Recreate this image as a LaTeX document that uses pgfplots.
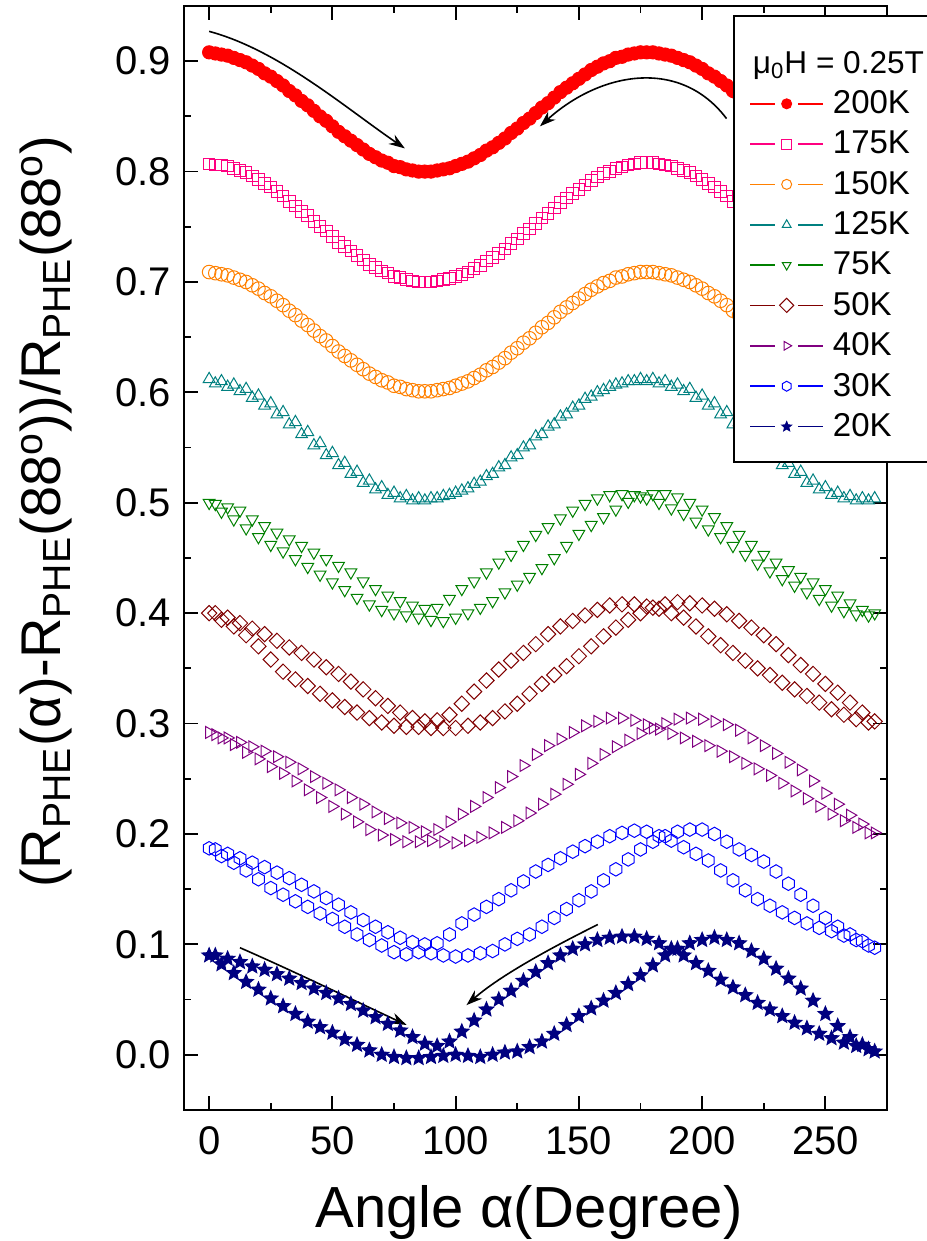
\documentclass[border=0pt]{standalone}
\usepackage{pgfplots}
\pgfplotsset{compat=1.18}
\usepackage{pgfplotstable}
\usepackage{fontspec}
\setmainfont{Liberation Sans}
\usetikzlibrary{arrows.meta}

\definecolor{c200}{RGB}{255,0,0}
\definecolor{c175}{RGB}{255,0,128}
\definecolor{c150}{RGB}{255,128,0}
\definecolor{c125}{RGB}{0,128,128}
\definecolor{c75}{RGB}{0,128,0}
\definecolor{c50}{RGB}{128,0,0}
\definecolor{c40}{RGB}{128,0,128}
\definecolor{c30}{RGB}{0,0,255}
\definecolor{c20}{RGB}{0,0,128}

% open hexagon, pointy top
\pgfdeclareplotmark{hexagon}{%
  \pgfpathmoveto{\pgfpointpolar{90}{\pgfplotmarksize}}%
  \pgfpathlineto{\pgfpointpolar{150}{\pgfplotmarksize}}%
  \pgfpathlineto{\pgfpointpolar{210}{\pgfplotmarksize}}%
  \pgfpathlineto{\pgfpointpolar{270}{\pgfplotmarksize}}%
  \pgfpathlineto{\pgfpointpolar{330}{\pgfplotmarksize}}%
  \pgfpathlineto{\pgfpointpolar{30}{\pgfplotmarksize}}%
  \pgfpathclose
  \pgfusepathqstroke
}
% filled five-pointed star
\pgfdeclareplotmark{fstar}{%
  \pgfpathmoveto{\pgfpointpolar{90}{\pgfplotmarksize}}%
  \pgfpathlineto{\pgfpointpolar{126}{0.45\pgfplotmarksize}}%
  \pgfpathlineto{\pgfpointpolar{162}{\pgfplotmarksize}}%
  \pgfpathlineto{\pgfpointpolar{198}{0.45\pgfplotmarksize}}%
  \pgfpathlineto{\pgfpointpolar{234}{\pgfplotmarksize}}%
  \pgfpathlineto{\pgfpointpolar{270}{0.45\pgfplotmarksize}}%
  \pgfpathlineto{\pgfpointpolar{306}{\pgfplotmarksize}}%
  \pgfpathlineto{\pgfpointpolar{342}{0.45\pgfplotmarksize}}%
  \pgfpathlineto{\pgfpointpolar{18}{\pgfplotmarksize}}%
  \pgfpathlineto{\pgfpointpolar{54}{0.45\pgfplotmarksize}}%
  \pgfpathclose
  \pgfusepathqfillstroke
}

\newcommand{\lstrut}{\rule[-4pt]{0pt}{14pt}}

% first sweep (a..) on 0,5,...,270
\pgfplotstableread{
x s200 s175 s150 s125 a75 a50 a40 a30 a20
0 0.908 0.807 0.709 0.612 0.500 0.400 0.292 0.187 0.090
5 0.906 0.806 0.707 0.610 0.492 0.394 0.287 0.180 0.082
10 0.903 0.803 0.704 0.607 0.485 0.388 0.281 0.174 0.074
15 0.899 0.799 0.700 0.603 0.477 0.380 0.274 0.167 0.066
20 0.893 0.793 0.694 0.597 0.469 0.370 0.268 0.159 0.059
25 0.886 0.786 0.687 0.590 0.462 0.358 0.261 0.151 0.051
30 0.878 0.778 0.679 0.582 0.456 0.347 0.255 0.145 0.044
35 0.869 0.769 0.670 0.573 0.449 0.340 0.248 0.139 0.037
40 0.860 0.760 0.661 0.564 0.442 0.334 0.240 0.134 0.030
45 0.850 0.750 0.651 0.554 0.435 0.327 0.233 0.128 0.025
50 0.841 0.741 0.642 0.545 0.428 0.321 0.225 0.123 0.020
55 0.832 0.732 0.633 0.536 0.421 0.315 0.218 0.116 0.014
60 0.824 0.724 0.625 0.528 0.414 0.310 0.211 0.109 0.009
65 0.816 0.716 0.617 0.520 0.408 0.305 0.204 0.104 0.004
70 0.810 0.710 0.611 0.514 0.403 0.301 0.199 0.099 0.000
75 0.805 0.705 0.606 0.509 0.400 0.298 0.195 0.093 -0.002
80 0.802 0.702 0.603 0.506 0.398 0.297 0.193 0.091 -0.003
85 0.800 0.700 0.601 0.504 0.396 0.297 0.193 0.093 -0.003
90 0.800 0.700 0.601 0.504 0.394 0.296 0.194 0.092 -0.002
95 0.802 0.702 0.603 0.506 0.393 0.296 0.193 0.090 -0.001
100 0.805 0.705 0.606 0.509 0.396 0.296 0.192 0.089 0.000
105 0.809 0.709 0.610 0.513 0.400 0.298 0.194 0.090 -0.001
110 0.815 0.715 0.616 0.519 0.405 0.301 0.197 0.092 -0.002
115 0.822 0.722 0.623 0.526 0.411 0.305 0.201 0.094 0.000
120 0.830 0.730 0.631 0.534 0.419 0.311 0.206 0.100 0.002
125 0.839 0.739 0.640 0.543 0.426 0.318 0.212 0.105 0.003
130 0.848 0.748 0.649 0.552 0.433 0.327 0.219 0.109 0.007
135 0.858 0.758 0.659 0.562 0.441 0.336 0.227 0.116 0.012
140 0.867 0.767 0.668 0.571 0.450 0.344 0.236 0.124 0.019
145 0.876 0.776 0.677 0.580 0.461 0.352 0.245 0.132 0.027
150 0.884 0.784 0.685 0.588 0.472 0.361 0.254 0.140 0.035
155 0.892 0.792 0.693 0.596 0.480 0.370 0.264 0.148 0.042
160 0.898 0.798 0.699 0.602 0.487 0.379 0.272 0.158 0.049
165 0.903 0.803 0.704 0.607 0.494 0.387 0.279 0.168 0.056
170 0.906 0.806 0.707 0.610 0.501 0.394 0.285 0.177 0.064
175 0.908 0.808 0.709 0.612 0.506 0.400 0.291 0.186 0.072
180 0.908 0.808 0.709 0.612 0.508 0.405 0.296 0.193 0.081
185 0.906 0.806 0.707 0.610 0.508 0.408 0.300 0.198 0.090
190 0.903 0.803 0.704 0.607 0.505 0.410 0.304 0.202 0.096
195 0.899 0.799 0.700 0.603 0.500 0.409 0.305 0.204 0.101
200 0.893 0.793 0.694 0.597 0.494 0.407 0.304 0.204 0.104
205 0.886 0.786 0.687 0.590 0.487 0.404 0.302 0.200 0.106
210 0.878 0.778 0.679 0.582 0.479 0.399 0.299 0.193 0.104
215 0.869 0.769 0.670 0.573 0.471 0.393 0.294 0.186 0.101
220 0.860 0.760 0.661 0.564 0.462 0.387 0.287 0.181 0.094
225 0.850 0.750 0.651 0.554 0.453 0.380 0.280 0.175 0.087
230 0.841 0.741 0.642 0.545 0.446 0.372 0.273 0.166 0.078
235 0.832 0.732 0.633 0.536 0.439 0.362 0.265 0.155 0.069
240 0.824 0.724 0.625 0.528 0.433 0.353 0.258 0.145 0.060
245 0.816 0.716 0.617 0.520 0.428 0.345 0.248 0.135 0.049
250 0.810 0.710 0.611 0.514 0.422 0.336 0.237 0.124 0.037
255 0.805 0.705 0.606 0.509 0.416 0.328 0.227 0.116 0.026
260 0.802 0.702 0.603 0.506 0.409 0.319 0.217 0.109 0.016
265 0.800 0.700 0.601 0.504 0.403 0.310 0.209 0.103 0.009
270 0.800 0.700 0.601 0.504 0.400 0.302 0.201 0.097 0.003
}\sweepA

% second sweep (b..) on 2.5,7.5,...,267.5
\pgfplotstableread{
x s200 s175 s150 s125 b75 b50 b40 b30 b20
2.5 0.907 0.806 0.708 0.608 0.499 0.400 0.290 0.186 0.090
7.5 0.905 0.805 0.706 0.605 0.496 0.396 0.287 0.182 0.087
12.5 0.901 0.801 0.702 0.601 0.493 0.391 0.283 0.178 0.084
17.5 0.896 0.796 0.697 0.595 0.485 0.386 0.279 0.174 0.080
22.5 0.889 0.789 0.690 0.588 0.479 0.381 0.275 0.170 0.077
27.5 0.882 0.782 0.683 0.580 0.473 0.375 0.270 0.165 0.073
32.5 0.873 0.773 0.674 0.571 0.467 0.369 0.265 0.160 0.069
37.5 0.864 0.764 0.665 0.562 0.461 0.364 0.259 0.154 0.065
42.5 0.855 0.755 0.656 0.552 0.455 0.358 0.252 0.148 0.060
47.5 0.846 0.746 0.647 0.543 0.449 0.351 0.246 0.142 0.056
52.5 0.836 0.736 0.637 0.534 0.443 0.345 0.240 0.136 0.051
57.5 0.828 0.728 0.629 0.526 0.437 0.338 0.233 0.129 0.046
62.5 0.820 0.720 0.621 0.518 0.429 0.331 0.227 0.122 0.040
67.5 0.813 0.713 0.614 0.512 0.422 0.323 0.220 0.116 0.034
72.5 0.808 0.708 0.609 0.507 0.416 0.316 0.214 0.111 0.028
77.5 0.804 0.704 0.605 0.504 0.411 0.310 0.210 0.106 0.022
82.5 0.801 0.701 0.602 0.502 0.407 0.305 0.206 0.102 0.016
87.5 0.800 0.700 0.601 0.502 0.404 0.302 0.202 0.100 0.010
92.5 0.801 0.701 0.602 0.504 0.405 0.303 0.204 0.101 0.008
97.5 0.803 0.703 0.604 0.507 0.413 0.308 0.211 0.109 0.012
102.5 0.807 0.707 0.608 0.511 0.422 0.318 0.218 0.119 0.021
107.5 0.812 0.712 0.613 0.517 0.429 0.329 0.225 0.127 0.031
112.5 0.819 0.719 0.620 0.524 0.437 0.339 0.233 0.134 0.041
117.5 0.826 0.726 0.627 0.532 0.446 0.349 0.242 0.141 0.050
122.5 0.835 0.735 0.636 0.541 0.453 0.357 0.252 0.149 0.058
127.5 0.844 0.744 0.645 0.550 0.462 0.364 0.262 0.157 0.067
132.5 0.853 0.753 0.654 0.560 0.471 0.372 0.272 0.166 0.075
137.5 0.862 0.762 0.663 0.569 0.478 0.381 0.280 0.172 0.083
142.5 0.872 0.772 0.673 0.578 0.486 0.388 0.286 0.178 0.090
147.5 0.880 0.780 0.681 0.586 0.493 0.393 0.292 0.184 0.096
152.5 0.888 0.788 0.689 0.594 0.499 0.398 0.298 0.189 0.100
157.5 0.895 0.795 0.696 0.600 0.504 0.403 0.302 0.193 0.104
162.5 0.900 0.800 0.701 0.605 0.507 0.407 0.305 0.198 0.106
167.5 0.904 0.804 0.705 0.608 0.508 0.408 0.305 0.201 0.107
172.5 0.907 0.807 0.708 0.610 0.507 0.408 0.303 0.203 0.107
177.5 0.908 0.808 0.709 0.610 0.504 0.406 0.299 0.202 0.105
182.5 0.907 0.807 0.708 0.608 0.500 0.404 0.295 0.198 0.101
187.5 0.905 0.805 0.706 0.605 0.495 0.400 0.291 0.194 0.096
192.5 0.901 0.801 0.702 0.601 0.490 0.396 0.287 0.188 0.090
197.5 0.896 0.796 0.697 0.595 0.483 0.388 0.284 0.182 0.083
202.5 0.889 0.789 0.690 0.588 0.476 0.379 0.280 0.176 0.076
207.5 0.882 0.782 0.683 0.580 0.469 0.371 0.275 0.167 0.068
212.5 0.873 0.773 0.674 0.571 0.461 0.364 0.270 0.158 0.061
217.5 0.864 0.764 0.665 0.562 0.453 0.357 0.264 0.149 0.054
222.5 0.855 0.755 0.656 0.552 0.445 0.350 0.259 0.141 0.047
227.5 0.846 0.746 0.647 0.543 0.438 0.344 0.253 0.135 0.041
232.5 0.836 0.736 0.637 0.534 0.431 0.337 0.246 0.129 0.035
237.5 0.828 0.728 0.629 0.526 0.425 0.331 0.239 0.124 0.029
242.5 0.820 0.720 0.621 0.518 0.419 0.325 0.232 0.119 0.024
247.5 0.813 0.713 0.614 0.512 0.413 0.319 0.225 0.115 0.019
252.5 0.808 0.708 0.609 0.507 0.407 0.313 0.218 0.112 0.015
257.5 0.804 0.704 0.605 0.504 0.402 0.308 0.212 0.108 0.011
262.5 0.801 0.701 0.602 0.502 0.399 0.304 0.206 0.104 0.008
267.5 0.800 0.700 0.601 0.502 0.398 0.301 0.201 0.099 0.005
}\sweepB

\pgfplotsset{
  orilegend/.style={legend image code/.code={%
      \draw[##1, line width=0.75pt] (0pt,0pt) -- (12.5pt,0pt) (24pt,0pt) -- (36.5pt,0pt);
      \draw[##1, mark size=2.5pt] plot coordinates {(18.25pt,0pt)};}},
  ser/.style={only marks, line width=0.5pt, orilegend},
  s200/.style={ser, color=c200, mark=*, mark size=3.3pt},
  s175/.style={ser, color=c175, mark=square, mark size=2.9pt},
  s150/.style={ser, color=c150, mark=o, mark size=3.4pt},
  s125/.style={ser, color=c125, mark=triangle, mark size=3.4pt},
  s75/.style={ser, color=c75, mark=triangle, mark options={rotate=180}, mark size=3.4pt},
  s50/.style={ser, color=c50, mark=square, mark options={rotate=45}, mark size=2.7pt},
  s40/.style={ser, color=c40, mark=triangle, mark options={rotate=-90}, mark size=3.4pt},
  s30/.style={ser, color=c30, mark=hexagon, mark size=3.4pt},
  s20/.style={ser, color=c20, mark=fstar, mark size=3.8pt},
}

\begin{document}
\begin{tikzpicture}
\begin{axis}[
  set layers,
  at={(0,0)}, anchor=south west,
  scale only axis, clip=false,
  width=351.5pt, height=552pt,
  xmin=-10.2, xmax=275, ymin=-0.05, ymax=0.95,
  xtick={0,50,100,150,200,250},
  ytick={0,0.1,0.2,0.3,0.4,0.5,0.6,0.7,0.8,0.9},
  minor x tick num=1, minor y tick num=1,
  tick pos=both, tick align=inside,
  major tick length=7pt, minor tick length=3.5pt,
  axis line style={line width=1pt},
  every tick/.style={black, line width=0.9pt},
  /pgf/number format/assume math mode=true,
  yticklabel={\pgfmathprintnumber[fixed,fixed zerofill,precision=1]{\tick}},
  ticklabel style={font=\fontsize{20}{24}\selectfont},
  xticklabel style={yshift=-5pt},
  yticklabel style={xshift=-3pt},
  xlabel={Angle α(Degree)},
  ylabel={(R\textsubscript{PHE}(α)-R\textsubscript{PHE}(88\textsuperscript{o}))/R\textsubscript{PHE}(88\textsuperscript{o})},
  xlabel style={font=\fontsize{29}{34}\selectfont, at={(axis description cs:0.491,0)}, anchor=base, yshift=-58.5pt, inner sep=0pt},
  ylabel style={font=\fontsize{28}{34}\selectfont, at={(axis description cs:-0.175,0.542)}, anchor=base, inner sep=0pt},
  legend style={at={(axis description cs:0.7824,0.991)}, anchor=north west, yshift=-8pt,
    draw=none, fill=none,
    inner xsep=7.5pt, inner ysep=9.5pt, row sep=7.2pt, column sep=4.5pt,
    font=\fontsize{16.5}{19}\selectfont, nodes={inner sep=0pt}},
  legend cell align=left,
]
\addlegendimage{empty legend}
\addlegendentry{\rule[-6.5pt]{0pt}{8pt}\hspace*{-40pt}{\fontsize{15.8}{19}\selectfont μ\textsubscript{0}H = 0.25T}}

\addplot[s200] table[x=x,y=s200]{\sweepA};
\addlegendentry{\lstrut 200K}
\addplot[s200, forget plot] table[x=x,y=s200]{\sweepB};

\addplot[s175] table[x=x,y=s175]{\sweepA};
\addlegendentry{\lstrut 175K}
\addplot[s175, forget plot] table[x=x,y=s175]{\sweepB};

\addplot[s150] table[x=x,y=s150]{\sweepA};
\addlegendentry{\lstrut 150K}
\addplot[s150, forget plot] table[x=x,y=s150]{\sweepB};

\addplot[s125] table[x=x,y=s125]{\sweepA};
\addlegendentry{\lstrut 125K}
\addplot[s125, forget plot] table[x=x,y=s125]{\sweepB};

\addplot[s75] table[x=x,y=a75]{\sweepA};
\addlegendentry{\lstrut 75K}
\addplot[s75, forget plot] table[x=x,y=b75]{\sweepB};

\addplot[s50] table[x=x,y=a50]{\sweepA};
\addlegendentry{\lstrut 50K}
\addplot[s50, forget plot] table[x=x,y=b50]{\sweepB};

\addplot[s40] table[x=x,y=a40]{\sweepA};
\addlegendentry{\lstrut 40K}
\addplot[s40, forget plot] table[x=x,y=b40]{\sweepB};

\addplot[s30] table[x=x,y=a30]{\sweepA};
\addlegendentry{\lstrut 30K}
\addplot[s30, forget plot] table[x=x,y=b30]{\sweepB};

\addplot[s20] table[x=x,y=a20]{\sweepA};
\addlegendentry{\lstrut 20K}
\addplot[s20, forget plot] table[x=x,y=b20]{\sweepB};

% sweep direction arrows
\draw[-{Stealth[length=8pt,width=5.5pt]}, line width=0.8pt]
  (axis cs:0,0.927) .. controls (axis cs:28.3,0.910) and (axis cs:55.1,0.858) .. (axis cs:79.4,0.821);
\draw[-{Stealth[length=8pt,width=5.5pt]}, line width=0.8pt]
  (axis cs:209.9,0.848) .. controls (axis cs:190.9,0.904) and (axis cs:158.5,0.890) .. (axis cs:134.2,0.841);
\draw[-{Stealth[length=8pt,width=5.5pt]}, line width=0.8pt]
  (axis cs:12.5,0.097) .. controls (axis cs:35,0.075) and (axis cs:58,0.050) .. (axis cs:80.1,0.027);
\draw[-{Stealth[length=8pt,width=5.5pt]}, line width=0.8pt]
  (axis cs:157.7,0.118) .. controls (axis cs:141.5,0.100) and (axis cs:118.6,0.073) .. (axis cs:104.4,0.045);

% legend frame above the data, running past the right edge of the page
\begin{pgfonlayer}{axis descriptions}
\draw[line width=0.8pt, fill=white]
  (axis description cs:0.7824,0.991) rectangle (axis description cs:1.08,0.587);
\end{pgfonlayer}
\end{axis}
\pgfresetboundingbox
\path (-92pt,-65.5pt) rectangle (371pt,555pt);
\end{tikzpicture}
\end{document}
